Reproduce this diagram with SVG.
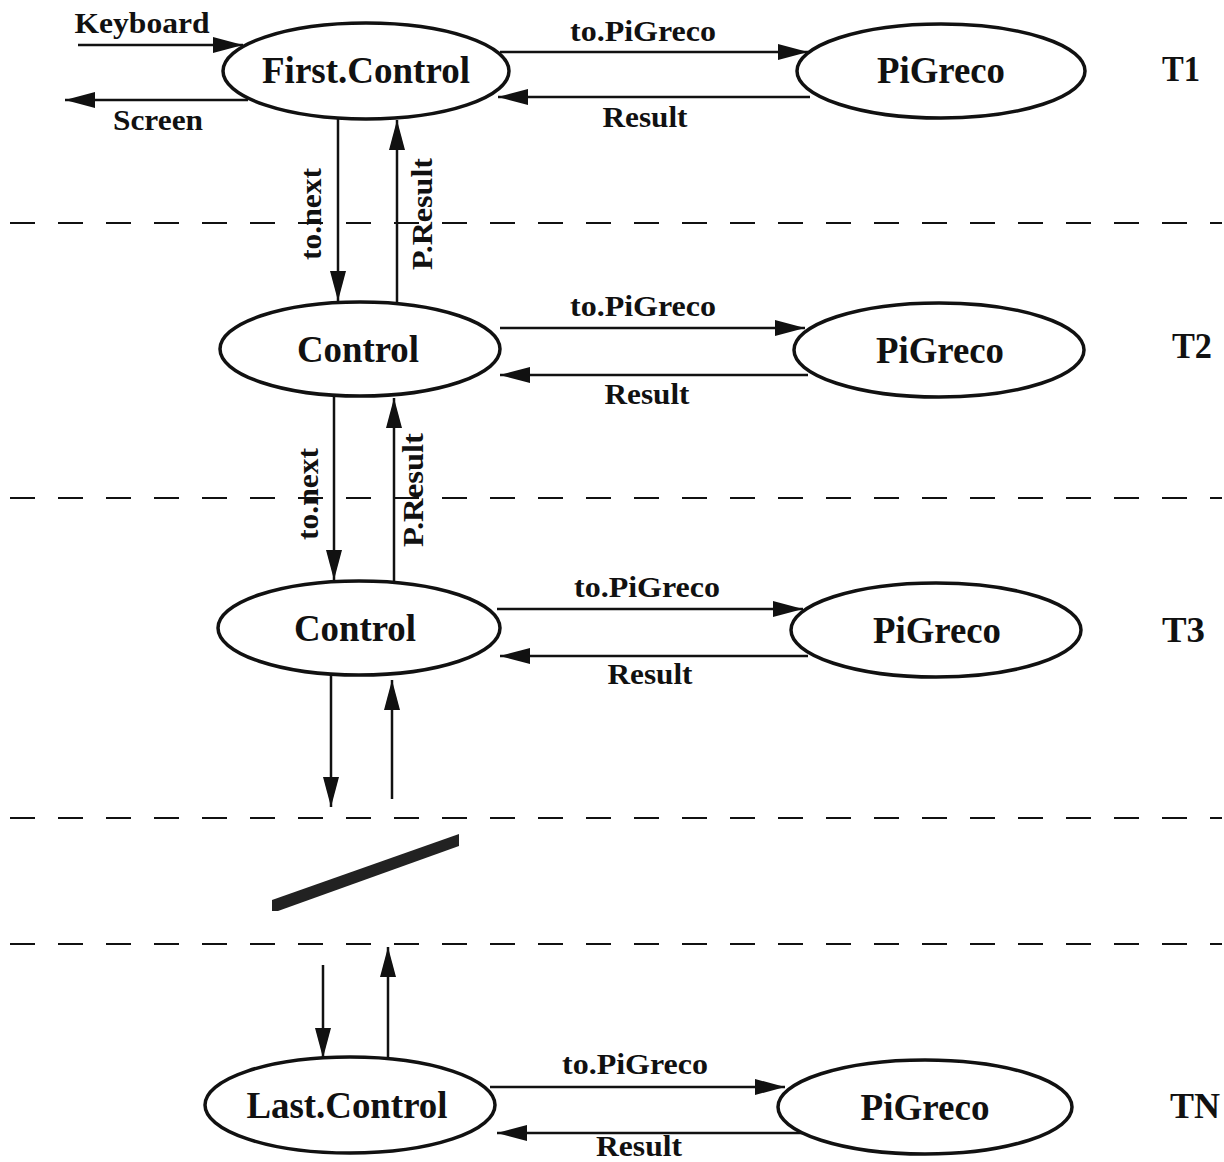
<svg xmlns="http://www.w3.org/2000/svg" width="1224" height="1162" viewBox="0 0 1224 1162">
  <defs>
    <marker id="head" viewBox="0 0 30 16" refX="30" refY="8" markerWidth="30" markerHeight="16" markerUnits="userSpaceOnUse" orient="auto">
      <path d="M0,0 L30,8 L0,16 Z" fill="#111"/>
    </marker>
  </defs>
  <style>
    .node { fill: #fff; stroke: #111; stroke-width: 3.5; }
    .ntext { font-family: "Liberation Serif", "Times New Roman", serif; font-size: 37px; font-weight: bold; fill: #111; text-anchor: middle; }
    .lbl { font-family: "Liberation Serif", "Times New Roman", serif; font-size: 30px; font-weight: bold; fill: #111; text-anchor: middle; }
    .tier { font-family: "Liberation Serif", "Times New Roman", serif; font-size: 36px; font-weight: bold; fill: #111; }
    .edge { stroke: #111; stroke-width: 2.5; fill: none; marker-end: url(#head); }
    .sep { stroke: #111; stroke-width: 2; stroke-dasharray: 25 23; fill: none; }
  </style>
  <rect width="1224" height="1162" fill="#fff"/>

  <!-- level separators -->
  <g id="separators">
    <line class="sep" x1="10" y1="223" x2="1222" y2="223"/>
    <line class="sep" x1="10" y1="498" x2="1222" y2="498"/>
    <line class="sep" x1="10" y1="818" x2="1222" y2="818"/>
    <line class="sep" x1="10" y1="944" x2="1222" y2="944"/>
  </g>

  <!-- break mark for omitted levels -->
  <polygon id="break" points="272,900 459,834 459,846 278,911 272,911" fill="#222"/>

  <!-- connectors -->
  <g id="connectors">
    <line class="edge" x1="78" y1="45" x2="243" y2="45"/>
    <line class="edge" x1="248" y1="100" x2="65" y2="100"/>

    <line class="edge" x1="500" y1="52" x2="808" y2="52"/>
    <line class="edge" x1="810" y1="97" x2="498" y2="97"/>
    <line class="edge" x1="338" y1="119" x2="338" y2="301"/>
    <line class="edge" x1="397" y1="302" x2="397" y2="120"/>

    <line class="edge" x1="500" y1="328" x2="805" y2="328"/>
    <line class="edge" x1="808" y1="375" x2="500" y2="375"/>
    <line class="edge" x1="334" y1="396" x2="334" y2="580"/>
    <line class="edge" x1="394" y1="581" x2="394" y2="398"/>

    <line class="edge" x1="497" y1="609" x2="803" y2="609"/>
    <line class="edge" x1="808" y1="656" x2="500" y2="656"/>
    <line class="edge" x1="331" y1="675" x2="331" y2="807"/>
    <line class="edge" x1="392" y1="799" x2="392" y2="680"/>

    <line class="edge" x1="323" y1="965" x2="323" y2="1058"/>
    <line class="edge" x1="388" y1="1059" x2="388" y2="947"/>
    <line class="edge" x1="490" y1="1087" x2="785" y2="1087"/>
    <line class="edge" x1="808" y1="1133" x2="497" y2="1133"/>
  </g>

  <!-- connector labels -->
  <g id="labels">
    <text class="lbl" x="142" y="33" textLength="135" lengthAdjust="spacingAndGlyphs">Keyboard</text>
    <text class="lbl" x="158" y="130" textLength="90" lengthAdjust="spacingAndGlyphs">Screen</text>

    <text class="lbl" x="643" y="41" textLength="146" lengthAdjust="spacingAndGlyphs">to.PiGreco</text>
    <text class="lbl" x="645" y="127" textLength="85" lengthAdjust="spacingAndGlyphs">Result</text>
    <text class="lbl" transform="translate(321,214) rotate(-90)" textLength="92" lengthAdjust="spacingAndGlyphs">to.next</text>
    <text class="lbl" transform="translate(432,214) rotate(-90)" textLength="112" lengthAdjust="spacingAndGlyphs">P.Result</text>

    <text class="lbl" x="643" y="316" textLength="146" lengthAdjust="spacingAndGlyphs">to.PiGreco</text>
    <text class="lbl" x="647" y="404" textLength="85" lengthAdjust="spacingAndGlyphs">Result</text>
    <text class="lbl" transform="translate(318,494) rotate(-90)" textLength="92" lengthAdjust="spacingAndGlyphs">to.next</text>
    <text class="lbl" transform="translate(423,490) rotate(-90)" textLength="114" lengthAdjust="spacingAndGlyphs">P.Result</text>

    <text class="lbl" x="647" y="597" textLength="146" lengthAdjust="spacingAndGlyphs">to.PiGreco</text>
    <text class="lbl" x="650" y="684" textLength="85" lengthAdjust="spacingAndGlyphs">Result</text>

    <text class="lbl" x="635" y="1074" textLength="146" lengthAdjust="spacingAndGlyphs">to.PiGreco</text>
    <text class="lbl" x="639" y="1156" textLength="86" lengthAdjust="spacingAndGlyphs">Result</text>
  </g>

  <!-- level T1 -->
  <g id="first-control">
    <ellipse class="node" cx="366" cy="71" rx="143" ry="48"/>
    <text class="ntext" x="366" y="83" textLength="208" lengthAdjust="spacingAndGlyphs">First.Control</text>
  </g>
  <g id="pigreco-1">
    <ellipse class="node" cx="941" cy="71" rx="144" ry="47"/>
    <text class="ntext" x="941" y="83" textLength="128" lengthAdjust="spacingAndGlyphs">PiGreco</text>
  </g>

  <!-- level T2 -->
  <g id="control-2">
    <ellipse class="node" cx="360" cy="349" rx="140" ry="47"/>
    <text class="ntext" x="358" y="362" textLength="122" lengthAdjust="spacingAndGlyphs">Control</text>
  </g>
  <g id="pigreco-2">
    <ellipse class="node" cx="939" cy="350" rx="145" ry="47"/>
    <text class="ntext" x="940" y="363" textLength="128" lengthAdjust="spacingAndGlyphs">PiGreco</text>
  </g>

  <!-- level T3 -->
  <g id="control-3">
    <ellipse class="node" cx="359" cy="628" rx="141" ry="47"/>
    <text class="ntext" x="355" y="641" textLength="122" lengthAdjust="spacingAndGlyphs">Control</text>
  </g>
  <g id="pigreco-3">
    <ellipse class="node" cx="936" cy="630" rx="145" ry="47"/>
    <text class="ntext" x="937" y="643" textLength="128" lengthAdjust="spacingAndGlyphs">PiGreco</text>
  </g>

  <!-- level TN -->
  <g id="last-control">
    <ellipse class="node" cx="350" cy="1105" rx="145" ry="48"/>
    <text class="ntext" x="347" y="1118" textLength="201" lengthAdjust="spacingAndGlyphs">Last.Control</text>
  </g>
  <g id="pigreco-n">
    <ellipse class="node" cx="925" cy="1107" rx="147" ry="47"/>
    <text class="ntext" x="925" y="1120" textLength="129" lengthAdjust="spacingAndGlyphs">PiGreco</text>
  </g>

  <!-- level tags -->
  <g id="tiers">
    <text class="tier" x="1162" y="81" textLength="38" lengthAdjust="spacingAndGlyphs">T1</text>
    <text class="tier" x="1172" y="358" textLength="40" lengthAdjust="spacingAndGlyphs">T2</text>
    <text class="tier" x="1162" y="642" textLength="43" lengthAdjust="spacingAndGlyphs">T3</text>
    <text class="tier" x="1170" y="1118" textLength="50" lengthAdjust="spacingAndGlyphs">TN</text>
  </g>
</svg>
